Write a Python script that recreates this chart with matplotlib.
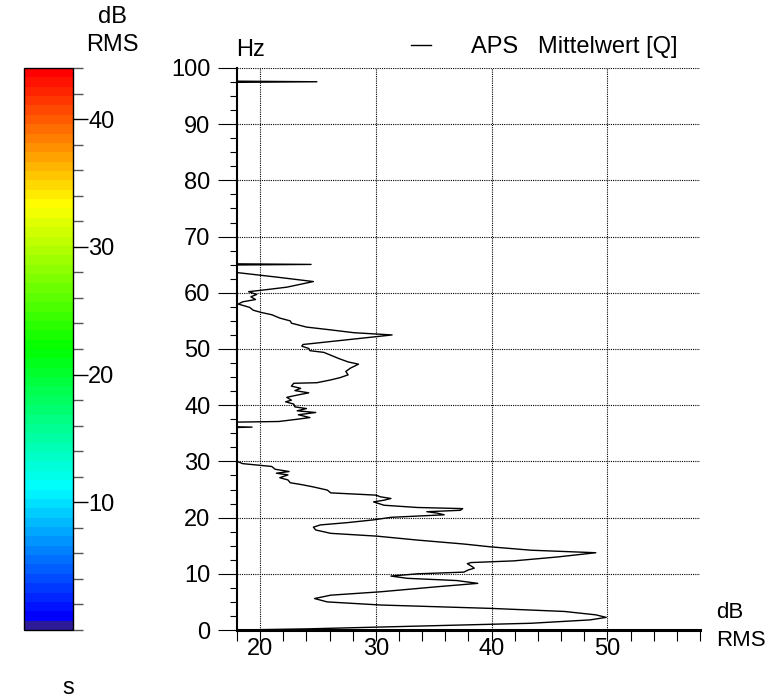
# APS spectrum (Mittelwert) with dB colour scale

import numpy as np
import matplotlib
matplotlib.use("Agg")
import matplotlib.pyplot as plt
from matplotlib.colors import LinearSegmentedColormap, Normalize
from matplotlib.cm import ScalarMappable
from matplotlib.ticker import MultipleLocator

plt.rcParams['font.family'] = ['Liberation Sans', 'DejaVu Sans']

# Data (frequency in Hz, level in dB RMS)
# values below 18 dB fall outside the axis
freq_hz = [0.0, 0.2, 0.5, 1.2, 1.8, 2.25, 2.7, 3.3, 3.85, 4.45, 5.0, 5.6, 6.2, 6.8,
           7.7, 8.3, 8.8, 9.2, 9.6, 10.0, 10.3, 10.7, 11.0, 11.3, 11.8, 12.0, 12.3,
           13.0, 13.75, 14.2, 14.8, 15.3, 16.0, 16.7, 17.2, 17.8, 18.3, 18.7, 19.1,
           19.6, 20.05, 20.5, 20.8, 21.05, 21.3, 21.6, 21.8, 22.2, 22.8, 23.1, 23.4,
           23.7, 24.0, 24.4, 24.9, 25.5, 25.9, 26.2, 26.7, 27.1, 27.6, 27.9, 28.2,
           28.6, 29.1, 29.3, 29.6, 30.0, 30.3, 35.9, 36.1, 36.3, 36.9, 37.1, 37.5,
           37.8, 38.3, 38.7, 39.0, 39.4, 39.7, 40.2, 40.6, 40.9, 41.4, 41.8, 42.2,
           42.6, 43.0, 43.4, 43.9, 44.0, 44.5, 44.9, 45.4, 46.0, 46.6, 47.3, 47.7,
           48.3, 48.9, 49.4, 49.7, 50.1, 50.5, 50.8, 52.5, 52.9, 53.4, 53.9, 54.6,
           55.0, 55.5, 56.1, 56.5, 56.9, 57.4, 58.0, 58.4, 58.8, 59.3, 59.7, 60.2,
           60.5, 61.0, 62.0, 62.8, 63.6, 63.9, 64.9, 65.05, 65.2, 97.4, 97.55, 97.7,
           100.0]
level_db = [18.0, 24.0, 29.8, 43.4, 48.5, 49.9, 49.0, 46.3, 39.9, 30.4, 25.8, 24.7, 26.1, 30.4,
            35.3, 38.8, 37.0, 32.7, 31.3, 33.6, 37.6, 38.0, 38.5, 38.3, 37.9, 38.2, 41.9,
            45.7, 49.0, 43.4, 39.9, 37.6, 33.6, 30.1, 26.1, 24.8, 24.6, 25.2, 27.5,
            29.8, 31.3, 35.9, 35.3, 34.4, 37.3, 37.5, 33.6, 30.7, 29.8, 30.7, 31.3,
            30.4, 30.0, 26.1, 25.8, 24.5, 23.5, 22.6, 22.4, 21.7, 22.4, 21.4, 22.5,
            21.3, 21.0, 20.0, 18.5, 18.0, 15.0, 15.0, 19.3, 15.0, 15.0, 21.6, 23.2,
            24.3, 23.3, 24.8, 23.2, 24.0, 23.0, 22.9, 22.2, 22.7, 22.3, 23.2, 24.2,
            23.0, 23.5, 22.7, 22.9, 24.9, 26.1, 26.9, 27.6, 27.4, 27.8, 28.5, 27.6,
            26.8, 26.1, 25.5, 24.3, 24.2, 23.6, 23.7, 31.4, 28.1, 26.1, 24.0, 22.7,
            22.6, 21.7, 21.0, 20.1, 19.4, 19.1, 18.1, 18.5, 19.6, 19.2, 19.7, 19.0,
            20.3, 22.3, 24.6, 21.4, 18.0, 15.0, 15.0, 24.4, 15.0, 15.0, 24.9, 15.0,
            15.0]

x_ticks = [20, 30, 40, 50]
y_ticks = [0, 10, 20, 30, 40, 50, 60, 70, 80, 90, 100]
cbar_ticks = [10, 20, 30, 40]
cbar_min, cbar_max = 0, 44

# Colour scale: dark strip, blue, cyan, green, yellow, red
cmap = LinearSegmentedColormap.from_list(
    "aps",
    [(0.0, "#2c1a96"), (0.016, "#2c1a96"), (0.017, "#0000ff"), (0.25, "#00ffff"),
     (0.5, "#00ff00"), (0.76, "#ffff00"), (1.0, "#ff0000")],
    N=60,
)

fs = 17

fig = plt.figure(figsize=(7.67, 6.98), dpi=100)
ax = fig.add_axes([0.309, 0.0974, 0.6036, 0.8052])
cax = fig.add_axes([0.0313, 0.0974, 0.0639, 0.8052])

# Spectrum curve
line, = ax.plot(level_db, freq_hz, color="black", linewidth=1.0)

ax.set_xlim(18, 58)
ax.set_ylim(0, 100)

ax.set_xticks(x_ticks)
ax.xaxis.set_minor_locator(MultipleLocator(2))
ax.set_yticks(y_ticks)
ax.yaxis.set_minor_locator(MultipleLocator(2.5))

ax.tick_params(axis="x", which="both", direction="out", length=8, width=0.8,
               labelsize=fs, pad=-2)
ax.tick_params(axis="y", which="major", direction="out", length=14, width=0.8,
               labelsize=fs, pad=5)
ax.tick_params(axis="y", which="minor", direction="out", length=5, width=0.8)

ax.grid(True, which="major", color="black", linestyle=(0, (1, 1)), linewidth=0.8)
ax.spines["top"].set_visible(False)
ax.spines["right"].set_visible(False)
ax.spines["left"].set_linewidth(1.5)
ax.spines["bottom"].set_linewidth(2.2)

fig.text(236 / 767, 1 - 50 / 698, "Hz", fontsize=fs, ha="left", va="center")
fig.text(716 / 767, 1 - 612 / 698, "dB", fontsize=16, ha="left", va="center")
fig.text(716 / 767, 1 - 641 / 698, "RMS", fontsize=16, ha="left", va="center")

# Legend
leg = ax.legend([line], ["APS   Mittelwert [Q]"], loc="lower right",
                bbox_to_anchor=(678 / 767, 1 - 58 / 698),
                bbox_transform=fig.transFigure, frameon=False, fontsize=fs,
                handlelength=0.85, handletextpad=1.7, borderpad=0, borderaxespad=0)

# Colour bar
cb = fig.colorbar(ScalarMappable(norm=Normalize(cbar_min, cbar_max), cmap=cmap), cax=cax)
cb.set_ticks(cbar_ticks)
cb.ax.yaxis.set_minor_locator(MultipleLocator(2))
cb.ax.tick_params(which="major", length=11, width=1.0, labelsize=fs, pad=0)
cb.ax.tick_params(which="minor", length=7, width=1.0, color="#555555")
cb.outline.set_linewidth(1.0)

fig.text(112 / 767, 1 - 17 / 698, "dB", fontsize=fs, ha="center", va="center")
fig.text(112 / 767, 1 - 45 / 698, "RMS", fontsize=fs, ha="center", va="center")
fig.text(68 / 767, 1 - 688 / 698, "s", fontsize=fs, ha="center", va="center")

fig.savefig("out.png", dpi=100)
